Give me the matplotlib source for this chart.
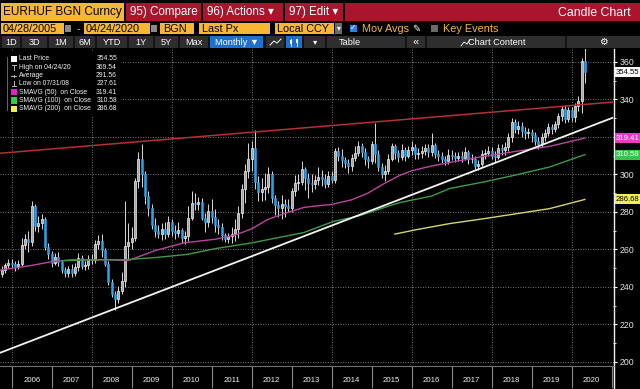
import matplotlib
matplotlib.use("Agg")
import matplotlib.pyplot as plt
from matplotlib.patches import Rectangle
from matplotlib.lines import Line2D
from matplotlib import font_manager as fm
import pandas as pd

# ------------------------------------------------------------------ data
first_open = 247.0
closes = [
    249.0, 251.5, 253.0, 252.0,
    251.0, 252.5, 262.5, 265.5, 264.0, 283.0, 272.5, 274.0, 276.5, 261.5, 257.5, 253.0,
    256.0, 253.5, 249.0, 247.5, 249.5, 247.5, 250.5, 255.5, 251.0, 251.5, 255.0, 254.5,
    263.0, 264.5, 259.5, 252.5, 242.5, 236.5, 233.5, 238.0, 243.0, 262.0, 264.0, 266.0,
    296.5, 308.5, 300.0, 288.5, 282.0, 273.0, 270.0, 268.5, 271.0, 268.5, 274.5, 270.0,
    269.0, 270.5, 266.0, 267.0, 277.0, 285.0, 284.0, 285.5, 277.0, 274.5, 280.5, 277.5,
    273.0, 272.0, 267.5, 265.5, 267.0, 268.5, 271.0, 279.5, 292.5, 302.0, 308.0, 314.0,
    296.0, 290.5, 292.0, 293.5, 300.0, 287.5, 283.5, 282.0, 284.0, 283.0, 282.0, 291.0,
    295.5, 296.0, 303.0, 298.0, 295.5, 295.0, 297.0, 298.5, 297.5, 295.0, 299.0, 297.0,
    312.5, 310.0, 307.5, 306.0, 304.5, 309.0, 311.5, 315.0, 312.0, 308.0, 307.0, 316.0,
    311.0, 304.0, 300.5, 302.0, 308.5, 315.0, 311.5, 309.5, 313.0, 310.0, 313.0, 314.5,
    311.0, 311.5, 312.5, 314.0, 312.0, 315.5, 311.0, 310.0, 308.5, 307.0, 310.5, 310.0,
    309.0, 310.0, 309.0, 312.0, 308.0, 308.5, 304.5, 305.5, 311.0, 311.5, 312.5, 310.0,
    309.5, 314.0, 313.0, 314.5, 320.0, 328.0, 324.0, 326.0, 323.0, 322.0, 322.5, 321.0,
    318.0, 316.0, 320.0, 322.0, 325.5, 324.0, 327.0, 331.0, 335.0, 329.5, 334.5, 330.5,
    336.5, 339.0, 360.5, 354.55,
]
highs = [
    251.0, 253.0, 255.0, 255.0,
    254.0, 254.5, 266.0, 268.5, 270.0, 286.0, 284.0, 278.0, 279.0, 277.5, 263.5, 259.0,
    258.0, 258.5, 254.5, 250.5, 251.0, 252.0, 253.0, 258.0, 257.0, 254.0, 257.0, 257.5,
    265.0, 267.5, 268.0, 261.0, 254.0, 244.5, 238.0, 240.5, 248.0, 286.0, 274.0, 272.0,
    298.0, 312.0, 316.5, 302.0, 291.0, 284.5, 277.0, 273.0, 274.0, 274.5, 278.0, 276.0,
    273.0, 274.5, 271.5, 270.0, 283.0, 291.0, 290.0, 288.0, 287.5, 279.5, 284.0, 287.0,
    281.5, 276.5, 274.0, 269.0, 269.0, 272.0, 276.0, 283.0, 295.0, 305.5, 317.0, 318.0,
    323.5, 299.0, 298.0, 301.0, 304.0, 302.0, 289.0, 286.0, 289.0, 287.0, 287.0, 293.0,
    299.5, 300.0, 307.0, 304.0, 301.0, 300.5, 299.5, 304.0, 302.5, 300.0, 302.0, 302.0,
    314.0, 314.5, 313.5, 309.5, 308.0, 311.0, 315.0, 318.0, 317.0, 314.0, 310.0, 318.0,
    327.5, 313.0, 306.0, 305.0, 311.0, 317.0, 316.5, 313.0, 316.0, 314.5, 315.0, 318.0,
    316.0, 314.0, 315.0, 316.0, 316.5, 322.0, 317.0, 313.0, 312.0, 310.0, 313.5, 313.0,
    312.0, 312.0, 312.5, 314.5, 313.0, 311.0, 310.0, 307.5, 313.0, 313.5, 315.0, 314.5,
    312.5, 316.0, 316.0, 317.5, 322.0, 330.0, 329.5, 328.5, 328.0, 325.5, 325.0, 324.0,
    322.5, 320.0, 322.0, 324.0, 327.5, 327.0, 328.5, 333.0, 336.5, 337.0, 336.0, 336.0,
    338.0, 342.0, 362.0, 369.54,
]
lows = [
    245.5, 247.5, 250.0, 250.5,
    248.5, 249.5, 251.0, 260.5, 258.5, 262.0, 270.0, 269.5, 271.0, 259.5, 255.0, 250.5,
    251.5, 251.0, 247.5, 245.5, 245.5, 245.5, 246.0, 248.5, 249.5, 249.0, 249.5, 252.5,
    253.0, 260.5, 256.0, 251.0, 241.0, 234.5, 227.61, 231.5, 236.5, 240.0, 255.0, 260.0,
    264.5, 293.0, 293.5, 284.0, 278.0, 271.0, 266.5, 266.0, 265.0, 265.5, 266.5, 267.0,
    265.5, 266.5, 263.5, 263.0, 264.5, 275.5, 281.0, 281.0, 275.5, 269.5, 272.0, 274.0,
    269.5, 268.5, 265.0, 263.8, 263.5, 263.5, 264.5, 266.0, 277.0, 285.0, 298.0, 302.0,
    292.5, 286.0, 286.0, 286.5, 290.0, 285.0, 278.5, 277.5, 276.5, 277.5, 280.0, 280.0,
    288.5, 291.5, 294.5, 291.5, 287.5, 290.5, 292.5, 294.5, 294.0, 293.0, 293.5, 295.5,
    295.5, 307.0, 304.0, 303.5, 301.0, 302.0, 307.0, 310.0, 309.5, 305.0, 303.5, 305.5,
    306.0, 302.0, 298.0, 296.5, 300.5, 307.0, 308.0, 306.5, 307.5, 307.0, 309.0, 310.5,
    308.5, 308.0, 309.0, 310.5, 309.5, 310.0, 309.0, 307.0, 306.0, 305.0, 305.5, 307.5,
    306.5, 307.0, 306.5, 307.5, 305.5, 306.0, 303.0, 302.5, 304.5, 308.0, 310.0, 308.5,
    306.5, 308.0, 310.5, 310.5, 312.5, 317.5, 322.0, 321.5, 320.0, 319.0, 319.5, 317.5,
    315.5, 313.5, 314.5, 318.0, 320.5, 321.5, 322.5, 325.0, 328.5, 327.5, 328.0, 328.5,
    328.0, 334.0, 333.0, 349.0,
]
first_month_end = "2005-09-30"

# moving averages (decimal year, value)
sma50_t = [2005.71, 2006.5, 2007.0, 2007.5, 2008.5, 2008.9, 2009.6, 2010.3, 2011.1, 2011.6,
           2012.0, 2012.4, 2012.8, 2013.3, 2013.6, 2014.0, 2014.5, 2014.9, 2015.3, 2015.7,
           2016.0, 2016.5, 2017.1, 2017.8, 2018.6, 2019.45, 2020.33]
sma50_v = [249.0, 251.5, 253.5, 254.5, 254.5, 254.0, 259.5, 263.5, 265.5, 267.8,
           271.0, 276.0, 279.0, 282.4, 283.2, 284.0, 286.5, 290.0, 295.0, 299.5,
           302.0, 304.5, 307.0, 309.6, 312.3, 315.0, 319.41]
sma100_t = [2007.25, 2008.0, 2008.8, 2009.6, 2010.4, 2011.1, 2012.0, 2012.7, 2013.3, 2014.05,
            2014.7, 2015.3, 2015.7, 2016.5, 2016.95, 2017.8, 2018.6, 2019.45, 2020.33]
sma100_v = [254.0, 254.5, 254.5, 255.7, 257.4, 260.5, 263.5, 266.5, 269.0, 275.0,
            278.0, 282.3, 285.0, 288.5, 292.5, 296.0, 299.7, 304.0, 310.58]
sma200_t = [2015.58, 2016.1, 2016.95, 2017.8, 2018.6, 2019.45, 2020.33]
sma200_v = [268.2, 270.5, 273.8, 276.4, 279.0, 281.8, 286.68]

red_trend_t = [2005.708, 2021.033]
red_trend_v = [311.3, 338.6]
white_trend_t = [2005.708, 2021.033]
white_trend_v = [204.9, 330.3]

year_labels = list(range(2006, 2021))
y_ticks = [200, 220, 240, 260, 280, 300, 320, 340, 360]
y_tick_labels = ["200", "220", "240", "260", "280", "300", "", "340", "360"]

legend_labels = ["Last Price", "High on 04/24/20", "Average", "Low on 07/31/08",
                 "SMAVG (50)  on Close", "SMAVG (100)  on Close", "SMAVG (200)  on Close"]
legend_values = ["354.55", "369.54", "291.56", "227.61", "319.41", "310.58", "286.68"]

tag_values = [354.55, 319.41, 310.58, 286.68]
tag_colors = ["#ffffff", "#e03fc8", "#32c84a", "#f2ee5a"]
tag_text_colors = ["#000000", "#ffffff", "#ffffff", "#000000"]

# ------------------------------------------------------------------ style
names = {f.name for f in fm.fontManager.ttflist}
FONT = "Liberation Sans" if "Liberation Sans" in names else "DejaVu Sans"
plt.rcParams["font.family"] = [FONT, "DejaVu Sans"]

W, H = 640, 389
ORANGE = "#f7b733"
RED = "#a8152c"
UP_FACE = "#a8a8a8"
DOWN = "#2aa2ec"
PINK = "#b8469f"
GREEN = "#3c9a48"
YELLOW = "#d6d66a"


def fx(x):
    return x / W


def fy(y):
    return 1 - y / H


fig = plt.figure(figsize=(6.4, 3.89), dpi=100)
fig.patch.set_facecolor("black")


def box(x0, y0, x1, y1, color, z=5):
    fig.add_artist(Rectangle((fx(x0), fy(y1)), fx(x1 - x0), (y1 - y0) / H,
                             transform=fig.transFigure, facecolor=color,
                             edgecolor="none", linewidth=0, zorder=z))


def txt(x, y, s, size, color, ha="left", z=6, stretch=None):
    fig.text(fx(x), fy(y), s, fontsize=size, color=color, ha=ha, va="center",
             family=[FONT, "DejaVu Sans"], zorder=z)


def fline(xs, ys, color, lw=0.8, z=6):
    fig.add_artist(Line2D([fx(x) for x in xs], [fy(y) for y in ys],
                          transform=fig.transFigure, color=color, lw=lw, zorder=z))


# ------------------------------------------------------------------ chart axes
ax = fig.add_axes([0, fy(365), fx(613), (365 - 49) / H])
ax.set_facecolor("black")
ax.set_xlim(2005.708, 2021.033)
ax.set_ylim(198.4, 366.9)

dates = pd.date_range(first_month_end, periods=len(closes), freq="ME")
t = list(dates.year + dates.month / 12.0)
opens = [first_open] + closes[:-1]

ax.vlines(t, lows, highs, colors="#d9d9d9", lw=0.7, zorder=3)
up_t, up_b, up_h, dn_t, dn_b, dn_h = [], [], [], [], [], []
for ti, o, c in zip(t, opens, closes):
    h = max(abs(c - o), 0.4)
    if c >= o:
        up_t.append(ti); up_b.append(min(o, c)); up_h.append(h)
    else:
        dn_t.append(ti); dn_b.append(min(o, c)); dn_h.append(h)
ax.bar(up_t, up_h, bottom=up_b, width=0.055, color=UP_FACE, edgecolor="#f4f4f4",
       linewidth=0.5, zorder=4)
ax.bar(dn_t, dn_h, bottom=dn_b, width=0.055, color=DOWN, edgecolor=DOWN,
       linewidth=0.4, zorder=4)

ax.plot(sma50_t, sma50_v, color=PINK, lw=1.0, zorder=5)
ax.plot(sma100_t, sma100_v, color=GREEN, lw=1.0, zorder=5)
ax.plot(sma200_t, sma200_v, color=YELLOW, lw=1.0, zorder=5)
ax.plot(red_trend_t, red_trend_v, color="#b3303a", lw=1.1, zorder=6)
ax.plot(white_trend_t, white_trend_v, color="#f4f4f4", lw=1.3, zorder=6)

# grid
for v in y_ticks:
    ax.axhline(v, color="#9a9a9a", lw=0.6, ls=(0, (1, 2)), zorder=1)
for yr in range(2006, 2021, 2):
    ax.axvline(yr, color="#9a9a9a", lw=0.6, ls=(0, (1, 2)), zorder=1)

for s in ax.spines.values():
    s.set_visible(False)
ax.set_xticks([])
ax.yaxis.tick_right()
ax.set_yticks(y_ticks)
ax.set_yticks(list(range(210, 361, 20)), minor=True)
ax.set_yticklabels(y_tick_labels)
ax.tick_params(axis="y", which="major", direction="out", length=3, width=0.8,
               colors="#ffffff", labelsize=6.3, pad=1.5, labelcolor="#e6e6e6")
ax.tick_params(axis="y", which="minor", direction="out", length=2, width=0.6,
               colors="#ffffff")

# right axis line and bottom band
fline([613.5, 613.5], [49, 389], "#f0f0f0", lw=1.0)
fline([0, 613.5], [365.5, 365.5], "#8a8a8a", lw=0.6)
for i, yr in enumerate(year_labels):
    xb = 11.7 + 40 * i
    fline([xb, xb], [367, 387], "#8a8a8a", lw=0.8)
    txt(xb + 20, 380, str(yr), 5.6, "#f0f0f0", ha="center")
fline([611.7, 611.7], [367, 387], "#8a8a8a", lw=0.8)

# value tags on the right axis
for v, bc, tc in zip(tag_values, tag_colors, tag_text_colors):
    yp = 362 - (v - 200) * 1.875
    box(615, yp - 5, 640, yp + 5, bc, z=7)
    txt(627.5, yp, f"{v:.2f}", 5.6, tc, ha="center", z=8)

# ------------------------------------------------------------------ legend
box(0, 52, 121, 116, "#000000", z=6)
leg_colors = ["#ffffff", None, None, None, "#e020c8", "#2fd040", "#f0f040"]
for i, (lab, val, col) in enumerate(zip(legend_labels, legend_values, leg_colors)):
    yy = 59 + 8.3 * i
    if col is not None:
        box(10.5, yy - 3, 16.5, yy + 3, col, z=7)
    elif i == 1:
        fline([13.5, 13.5], [yy - 2.5, yy + 2.5], "#bbbbbb", lw=0.7, z=7)
        fline([11.5, 15.5], [yy - 2.5, yy - 2.5], "#bbbbbb", lw=0.7, z=7)
    elif i == 2:
        fline([11, 16], [yy, yy], "#bbbbbb", lw=0.7, z=7)
        fline([13.5, 13.5], [yy - 1, yy + 1], "#bbbbbb", lw=0.7, z=7)
    else:
        fline([13.5, 13.5], [yy - 2.5, yy + 2.5], "#bbbbbb", lw=0.7, z=7)
        fline([11.5, 15.5], [yy + 2.5, yy + 2.5], "#bbbbbb", lw=0.7, z=7)
    txt(19, yy, lab, 4.9, "#f2f2f2", z=8)
    txt(117, yy, val, 4.9, "#f2f2f2", ha="right", z=8)
fline([7, 7], [57, 110], "#777777", lw=0.6, z=7)

# ------------------------------------------------------------------ header
# row 1
box(1, 3, 124, 21, ORANGE)
txt(3, 12.5, "EURHUF BGN Curncy", 8.5, "#000000")
box(126, 3, 201, 21, RED)
txt(130, 12.5, "95) Compare", 8.4, "#ffffff")
box(203, 3, 283, 21, RED)
txt(207, 12.5, "96) Actions \u25be", 8.4, "#ffffff")
box(285, 3, 343, 21, RED)
txt(289, 12.5, "97) Edit \u25be", 8.4, "#ffffff")
box(345, 3, 640, 21, RED)
txt(631, 12.5, "Candle Chart", 8.8, "#ffffff", ha="right")

# row 2
box(1, 23, 64, 34, ORANGE)
txt(3, 28.7, "04/28/2005", 7.8, "#000000")
box(65, 25, 71, 32, "#8a8a8a")
txt(78, 28.7, "-", 7.8, "#cccccc", ha="center")
box(84, 23, 150, 34, ORANGE)
txt(86, 28.7, "04/24/2020", 7.8, "#000000")
box(151, 25, 157, 32, "#8a8a8a")
box(160, 23, 194, 34, ORANGE)
txt(163, 28.7, "BGN", 7.8, "#000000")
box(199, 23, 270, 34, ORANGE)
txt(202, 28.7, "Last Px", 7.8, "#000000")
box(275, 23, 334, 34, ORANGE)
txt(277, 28.7, "Local CCY", 7.8, "#000000")
box(335, 23, 342, 34, "#6a6a6a")
txt(338.5, 28.7, "\u25be", 5.5, "#ffffff", ha="center")
box(350, 25, 357, 32, "#2f7fe0")
txt(353.5, 28.7, "\u2713", 5.5, "#ffffff", ha="center")
txt(362, 28.7, "Mov Avgs", 7.8, ORANGE)
txt(416, 28.7, "\u270e", 7.0, "#ffffff", ha="center")
box(431, 25, 438, 32, "#6a6a6a")
txt(443, 28.7, "Key Events", 7.8, ORANGE)

# row 3
box(0, 36, 640, 48, "#141414", z=4)
buttons = [(2, 20, "1D"), (22, 47, "3D"), (49, 73, "1M"), (75, 95, "6M"), (97, 127, "YTD"),
           (129, 153, "1Y"), (155, 178, "5Y"), (180, 208, "Max")]
for x0, x1, lab in buttons:
    box(x0, 36, x1, 48, "#2e2e2e")
    txt((x0 + x1) / 2, 42.2, lab, 6.6, "#ffffff", ha="center")
box(210, 36, 263, 48, "#1f6fd1")
txt(236.5, 42.2, "Monthly \u25bc", 6.6, "#ffffff", ha="center")
box(266, 36, 284, 48, "#2e2e2e")
fline([270, 274, 277, 281], [45, 41, 43, 39], "#ffffff", lw=0.7)
box(286, 36, 302, 48, "#1f6fd1")
fline([291, 291], [38.5, 45.5], "#ffffff", lw=0.6)
box(289.8, 40, 292.2, 44, "#ffffff", z=6)
fline([297, 297], [38.5, 45.5], "#ffffff", lw=0.6)
box(295.8, 39.5, 298.2, 43, "#ffffff", z=6)
box(304, 36, 325, 48, "#2e2e2e")
txt(315, 42.2, "\u25be", 6, "#ffffff", ha="center")
box(327, 36, 405, 48, "#2e2e2e")
txt(350, 42.2, "Table", 6.6, "#ffffff", ha="center")
box(407, 36, 425, 48, "#2e2e2e")
txt(416, 42, "\u00ab", 8, "#ffffff", ha="center")
box(427, 36, 565, 48, "#2e2e2e")
txt(497, 42.2, "Chart Content", 6.6, "#ffffff", ha="center")
fline([461, 464, 467, 470], [46, 42, 44, 39.5], "#ffffff", lw=0.6)
box(567, 36, 640, 48, "#2e2e2e")
txt(603, 42, "\u2699", 7, "#ffffff", ha="center")

fig.savefig("out.png", dpi=100, facecolor="black")
